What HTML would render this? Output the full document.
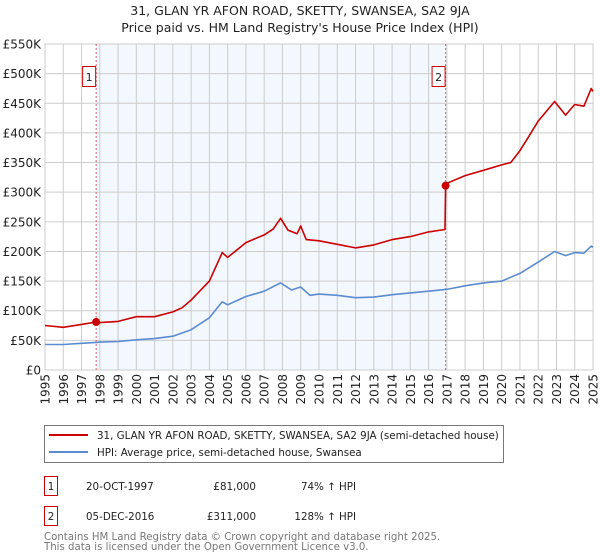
<!DOCTYPE html>
<html><head><meta charset="utf-8"><style>
body{margin:0;background:#fff;}
svg{display:block;font-family:"DejaVu Sans","Liberation Sans",sans-serif;}
</style></head><body>
<svg id="chart" width="600" height="560" viewBox="0 0 600 560">
<text x="300" y="15" text-anchor="middle" font-size="12.5" fill="#222">31, GLAN YR AFON ROAD, SKETTY, SWANSEA, SA2 9JA</text>
<text x="300" y="32" text-anchor="middle" font-size="12.5" fill="#222">Price paid vs. HM Land Registry's House Price Index (HPI)</text>
<g id="plot"></g>
<g>
<rect x="44.5" y="425.5" width="459" height="37" fill="#fff" stroke="#777"/>
<line x1="49" y1="435" x2="88" y2="435" stroke="#cc0000" stroke-width="2"/>
<text x="97" y="439" font-size="10.3" fill="#222">31, GLAN YR AFON ROAD, SKETTY, SWANSEA, SA2 9JA (semi-detached house)</text>
<line x1="49" y1="452" x2="88" y2="452" stroke="#5b8bd0" stroke-width="2"/>
<text x="97" y="456" font-size="10.3" fill="#222">HPI: Average price, semi-detached house, Swansea</text>
</g>
<g font-size="10.3" fill="#222">
<rect x="44.5" y="476.5" width="13" height="19" fill="none" stroke="#cc0000"/>
<text x="51" y="490" text-anchor="middle">1</text>
<text x="86" y="490">20-OCT-1997</text>
<text x="256" y="490" text-anchor="end">£81,000</text>
<text x="356" y="490" text-anchor="end">74% ↑ HPI</text>
<rect x="44.5" y="506.5" width="13" height="19" fill="none" stroke="#cc0000"/>
<text x="51" y="520" text-anchor="middle">2</text>
<text x="86" y="520">05-DEC-2016</text>
<text x="256" y="520" text-anchor="end">£311,000</text>
<text x="356" y="520" text-anchor="end">128% ↑ HPI</text>
</g>
<text x="44" y="540" font-size="10.2" fill="#777">Contains HM Land Registry data © Crown copyright and database right 2025.</text>
<text x="44" y="550" font-size="10.2" fill="#777">This data is licensed under the Open Government Licence v3.0.</text>
</svg>
<script>
const hpiYears=[1995,1996,1997,1997.8,1998,1999,2000,2001,2002,2003,2004,2004.7,2005,2006,2007,2007.9,2008.5,2009,2009.5,2010,2011,2012,2013,2014,2015,2016,2016.93,2017,2018,2019,2020,2021,2022,2022.9,2023.5,2024,2024.5,2024.9,2025];
const hpiValues=[43,43,45,46.5,47,48,51,53,57,68,88,115,110,124,133,147,135,140,126,128,126,122,123,127,130,133,136,136,142,147,150,163,182,200,193,198,197,209,207];
const propYears=[1995,1996,1997,1997.8,1998,1999,2000,2001,2002,2002.5,2003,2004,2004.7,2005,2006,2007,2007.5,2007.9,2008.3,2008.8,2009,2009.3,2010,2011,2012,2013,2014,2015,2016,2016.9,2016.93,2017,2018,2019,2020,2020.5,2021,2021.5,2022,2022.9,2023.5,2024,2024.5,2024.9,2025];
const propValues=[75,72,77,81,80,82,90,90,98,105,118,150,198,190,215,228,238,256,236,230,243,220,218,212,206,211,220,225,233,237,311,315,328,337,346,350,370,395,420,453,430,448,445,475,470];
const saleYears=[1997.8,2016.93];
const saleValues=[81,311];
const saleLabels=["1","2"];
const yTicks=[0,50,100,150,200,250,300,350,400,450,500,550];
const xTicks=[1995,1996,1997,1998,1999,2000,2001,2002,2003,2004,2005,2006,2007,2008,2009,2010,2011,2012,2013,2014,2015,2016,2017,2018,2019,2020,2021,2022,2023,2024,2025];
const L=45,R=593,T=44,B=370;
const sx=y=>L+(y-1995)/30*(R-L);
const sy=v=>B-v/550*(B-T);
const NS="http://www.w3.org/2000/svg";
const g=document.getElementById('plot');
function mk(tag,attrs,parent){const e=document.createElementNS(NS,tag);for(const k in attrs)e.setAttribute(k,attrs[k]);(parent||g).appendChild(e);return e;}
mk('rect',{x:L,y:T,width:R-L,height:B-T,fill:'#fff'});
const shade=mk('rect',{x:sx(saleYears[0]),y:T,width:sx(saleYears[1])-sx(saleYears[0]),height:B-T,fill:'#eef3fd',opacity:0.7});


yTicks.forEach(v=>{
 mk('line',{x1:L,x2:R,y1:sy(v),y2:sy(v),stroke:'#ccc','stroke-width':1});
 const t=mk('text',{x:L-4,y:sy(v)+4.5,'text-anchor':'end','font-size':'12',fill:'#222'});
 t.textContent=v===0?'£0':'£'+v+'K';
 
 
});
xTicks.forEach(y=>{
 mk('line',{x1:sx(y),x2:sx(y),y1:T,y2:B,stroke:'#ccc','stroke-width':1});
 const t=mk('text',{x:0,y:0,transform:`translate(${sx(y)+4.5},${B+4}) rotate(-90)`,'text-anchor':'end','font-size':'12',fill:'#222'});
 t.textContent=y;
 
 
});
mk('rect',{x:L,y:T,width:R-L,height:B-T,fill:'none',stroke:'#ccc'});
saleYears.forEach((y,i)=>{
 const l=mk('line',{x1:sx(y),x2:sx(y),y1:T,y2:B,stroke:'#e06060','stroke-width':1,'stroke-dasharray':'2,2'});
 
 
});
function path(xs,vs,color,name){
 const d=xs.map((x,i)=>(i?'L':'M')+sx(x).toFixed(1)+','+sy(vs[i]).toFixed(1)).join('');
 const p=mk('path',{d:d,fill:'none',stroke:color,'stroke-width':1.6,'stroke-linejoin':'round'});
 
 
}
path(hpiYears,hpiValues,'#5b8bd0','hpi-line');
path(propYears,propValues,'#cc0000','property-price-line');
saleYears.forEach((y,i)=>{
 const c=mk('circle',{cx:sx(y),cy:sy(saleValues[i]),r:4,fill:'#cc0000'});
 
 
 const bx=sx(y)-13;
 const b=mk('rect',{x:bx-0.5,y:66.5,width:13,height:20,fill:'#fff',stroke:'#cc0000'});
 
 
 const t=mk('text',{x:bx+6,y:81,'text-anchor':'middle','font-size':'11',fill:'#222'});
 t.textContent=saleLabels[i];
 
 
});
</script>
</body></html>
